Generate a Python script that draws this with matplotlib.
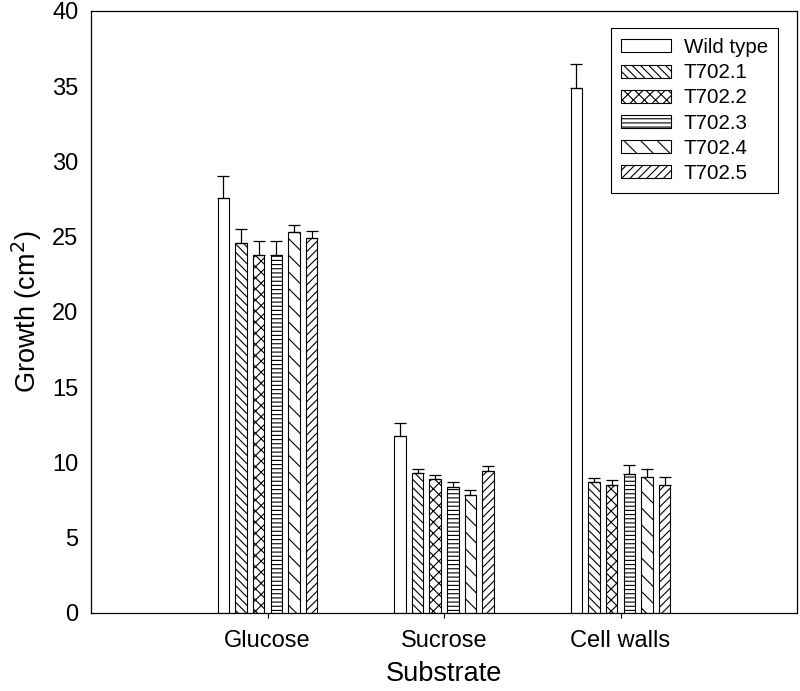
import numpy as np
import matplotlib
matplotlib.use("Agg")
import matplotlib.pyplot as plt

plt.rcParams['font.family'] = ['Liberation Sans', 'DejaVu Sans']
plt.rcParams['hatch.linewidth'] = 0.8

substrates = ['Glucose', 'Sucrose', 'Cell walls']
strains = ['Wild type', 'T702.1', 'T702.2', 'T702.3', 'T702.4', 'T702.5']

# growth (cm2) per strain, order: Glucose, Sucrose, Cell walls
wild_type = [27.6, 11.75, 34.9]
t702_1 = [24.6, 9.27, 8.73]
t702_2 = [23.8, 8.89, 8.53]
t702_3 = [23.8, 8.38, 9.24]
t702_4 = [25.3, 7.84, 9.04]
t702_5 = [24.9, 9.44, 8.53]

# upper error bars
wild_type_err = [1.45, 0.9, 1.55]
t702_1_err = [0.9, 0.3, 0.27]
t702_2_err = [0.9, 0.3, 0.3]
t702_3_err = [0.9, 0.3, 0.6]
t702_4_err = [0.45, 0.3, 0.5]
t702_5_err = [0.5, 0.3, 0.5]

values = [wild_type, t702_1, t702_2, t702_3, t702_4, t702_5]
errors = [wild_type_err, t702_1_err, t702_2_err, t702_3_err, t702_4_err, t702_5_err]
hatches = ['', '\\\\\\\\', 'xxx', '----', '\\\\', '////']

fig = plt.figure(figsize=(8, 6.91), dpi=100)
ax = fig.add_axes([0.11375, 0.1129, 0.8825, 0.8712])

x = np.arange(1, len(substrates) + 1)
pitch = 0.1
width = 0.065
for i, (vals, errs, h, name) in enumerate(zip(values, errors, hatches, strains)):
    pos = x + (i - 2.5) * pitch
    ax.bar(pos, vals, width, color='white', edgecolor='black', linewidth=0.8,
           hatch=h, label=name, zorder=2)
    ax.errorbar(pos, vals, yerr=[np.zeros(len(errs)), errs], fmt='none',
                ecolor='black', elinewidth=0.9, capsize=4.5, capthick=0.9, zorder=3)

ax.set_xlim(0, 4)
ax.set_ylim(0, 40)
ax.set_xticks(x)
ax.set_xticklabels(substrates, fontsize=17)
ax.set_yticks(np.arange(0, 41, 5))
ax.tick_params(axis='y', length=0, labelsize=17, pad=9)
ax.tick_params(axis='x', length=3.6, direction='out', width=0.8, pad=9)
for s in ax.spines.values():
    s.set_linewidth(0.9)
ax.set_xlabel('Substrate', fontsize=19.5, labelpad=6)
ax.set_ylabel('Growth (cm$^2$)', fontsize=19.5, labelpad=6)

leg = ax.legend(loc='upper right', bbox_to_anchor=(0.973, 0.972), borderaxespad=0,
                fontsize=14.8, fancybox=False, framealpha=1, edgecolor='black',
                handlelength=2.4, handleheight=0.6, labelspacing=0.3,
                borderpad=0.5, handletextpad=0.63)
leg.get_frame().set_linewidth(0.8)

fig.savefig('out.png', dpi=100)
